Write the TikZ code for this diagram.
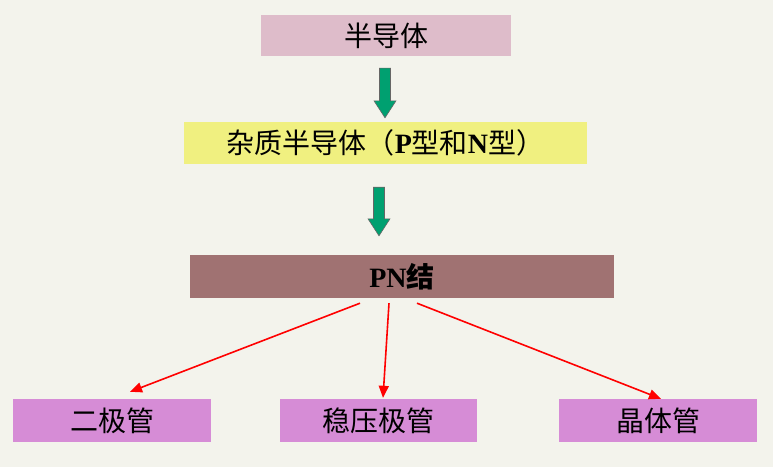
\documentclass[tikz,border=0pt]{standalone}
\usepackage{fontspec}
\setmainfont{Noto Sans CJK SC}
\newfontfamily\lat{Liberation Serif}
\usepackage{tikz}
\usetikzlibrary{arrows.meta,positioning,calc}
\usepackage{xcolor}

\definecolor{bgcol}{RGB}{243,243,236}
\definecolor{pinkcol}{RGB}{222,188,202}
\definecolor{yellowcol}{RGB}{240,240,128}
\definecolor{browncol}{RGB}{160,114,114}
\definecolor{violetcol}{RGB}{214,140,214}
\definecolor{arrowgreen}{RGB}{0,160,112}

% fat green arrow between two named coordinates
\newcommand{\fatarrow}[2]{%
  \path[fatstyle] ($(#1)+(-5.5,0)$) -- ($(#2)+(-5.5,17)$) -- ($(#2)+(-11,17)$) -- (#2)
    -- ($(#2)+(11,17)$) -- ($(#2)+(5.5,17)$) -- ($(#1)+(5.5,0)$) -- cycle;}

\begin{document}
\begin{tikzpicture}[x=1pt, y=1pt]
\tikzstyle{block} = [rectangle, inner sep=0pt, font=\fontsize{28}{31}\selectfont]
\tikzstyle{fatstyle} = [fill=arrowgreen, draw=black!60, line width=0.6pt]
\tikzstyle{line} = [draw=red, line width=1.6pt, -{Triangle[length=12pt,width=10pt]}]

\fill[bgcol] (0,0) rectangle (773,467);
\useasboundingbox (0,0) rectangle (773,467);

\node [block, fill=pinkcol, minimum width=250pt, minimum height=41pt] (semi) at (386,431.5) {半导体};
\node [block, fill=yellowcol, minimum width=403pt, minimum height=42pt] (doped) at (385.5,324)
  {杂质半导体（{\lat\bfseries P}型和{\lat\bfseries N}型）};
\node [block, fill=browncol, minimum width=424pt, minimum height=43pt] (pn) at (402,190.5)
  {{\lat\bfseries PN}\textbf{结}};
\node [block, fill=violetcol, minimum width=198pt, minimum height=43pt] (diode) at (112,46.5) {二极管};
\node [block, fill=violetcol, minimum width=197pt, minimum height=43pt] (zener) at (378.5,46.5) {稳压极管};
\node [block, fill=violetcol, minimum width=198pt, minimum height=43pt] (transistor) at (658,46.5) {晶体管};

\coordinate (a1s) at ([xshift=-1pt,yshift=-12pt]semi.south);
\coordinate (a1e) at ([xshift=-0.5pt,yshift=4pt]doped.north);
\coordinate (a2s) at ([xshift=-6.5pt,yshift=-23pt]doped.south);
\coordinate (a2e) at ([xshift=-23pt,yshift=19pt]pn.north);
\fatarrow{a1s}{a1e}
\fatarrow{a2s}{a2e}

\path [line] ([xshift=-42pt,yshift=-5pt]pn.south) -- ([xshift=18pt,yshift=7pt]diode.north);
\path [line] ([xshift=-13pt,yshift=-5pt]pn.south) -- ([xshift=4.5pt,yshift=1pt]zener.north);
\path [line] ([xshift=15pt,yshift=-5pt]pn.south) -- ([xshift=3pt,yshift=0pt]transistor.north);

\end{tikzpicture}
\end{document}
